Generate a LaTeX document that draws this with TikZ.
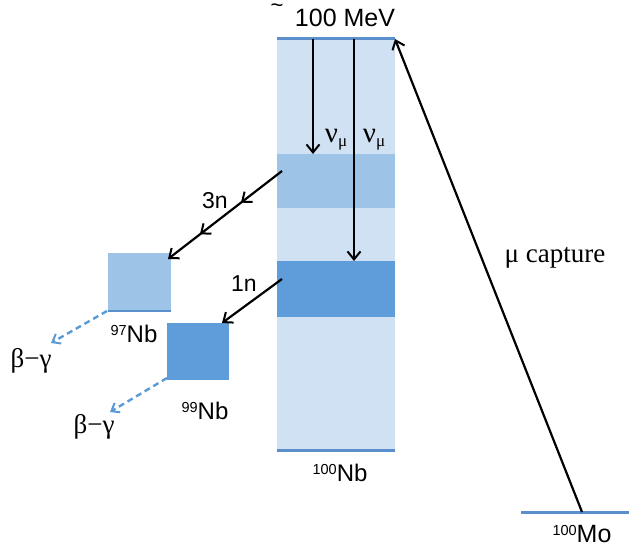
\documentclass[tikz,border=0pt]{standalone}
\usepackage{fontspec}
\setmainfont{Liberation Serif}
\newfontfamily\sansf{Liberation Sans}
\usetikzlibrary{arrows.meta,decorations.markings}
\definecolor{colfill}{HTML}{CFE1F3}
\definecolor{bandA}{HTML}{9DC3E6}
\definecolor{bandB}{HTML}{5E9DDA}
\definecolor{lvl}{HTML}{5B8FCB}
\definecolor{decaycol}{HTML}{5B9BD5}
\newcommand\isotope[2]{\raisebox{7pt}{\fontsize{14.5}{15}\selectfont #1}#2}
\newcommand\numu{ν\raisebox{-4pt}{\fontsize{17}{18}\selectfont μ}}
\begin{document}
\begin{tikzpicture}[x=1pt,y=-1pt,
  box/.style={draw=none,inner sep=0pt,outer sep=0pt,anchor=north west},
  lvlline/.style={draw=lvl,line width=3pt},
  arr/.style={draw=black,line width=2.2pt,-{Straight Barb[length=8pt,width=13pt,line width=2pt]}},
  decay/.style={draw=decaycol,line width=2.4pt,dash pattern=on 6pt off 4pt,-{Straight Barb[length=7pt,width=11pt,line width=2pt]}},
  lab/.style={font=\sansf\fontsize{24}{28}\selectfont,inner sep=0pt},
  serif/.style={font=\fontsize{27}{30}\selectfont,inner sep=0pt}]
\useasboundingbox (0,0) rectangle (629,553);
% column and levels
\node[box,fill=colfill,minimum width=118pt,minimum height=413pt] (col) at (277,39) {};
\node[box,fill=bandA,minimum width=118pt,minimum height=54pt] (band1) at (277,154) {};
\node[box,fill=bandB,minimum width=118pt,minimum height=56pt] (band2) at (277,261) {};
\draw[lvlline] (col.north west) -- (col.north east);
\draw[lvlline] ([yshift=1.5pt]col.south west) -- ([yshift=1.5pt]col.south east);
% daughter boxes
\node[box,fill=bandA,minimum width=63pt,minimum height=59pt] (nb97) at (108,253) {};
\draw[draw=lvl,line width=2pt] ([yshift=1pt]nb97.south west) -- ([yshift=1pt]nb97.south east);
\node[box,fill=bandB,minimum width=62pt,minimum height=57pt] (nb99) at (167,323) {};
% Mo level
\coordinate (moL) at (521,512);
\coordinate (moR) at (629,512);
\coordinate (mo) at (582,512);
\draw[lvlline] (moL) -- (moR);
% neutrino arrows
\coordinate (t1) at (313,39);
\coordinate (t2) at (354,39);
\draw[arr] (t1) -- (t1 |- band1.north);
\draw[arr] (t2) -- (t2 |- band2.north);
% neutron emission
\coordinate (s3) at (282,171);
\coordinate (e3) at (168,259);
\draw[arr,postaction={decorate},decoration={markings,
  mark=at position 0.36 with {\arrow{Straight Barb[length=8pt,width=13pt,line width=2pt]}},
  mark=at position 0.72 with {\arrow{Straight Barb[length=8pt,width=13pt,line width=2pt]}}}] (s3) -- (e3);
\coordinate (s1) at (282,279);
\coordinate (e1) at (222,323);
\draw[arr] (s1) -- (e1);
% beta-gamma decays
\coordinate (bg1) at (51,343);
\coordinate (bg2) at (110,412);
\draw[decay] ([shift={(-1pt,1pt)}]nb97.south west) -- (bg1);
\draw[decay] ([yshift=2pt]nb99.south west) -- (bg2);
% muon capture
\draw[arr] (mo) -- (col.north east);
% labels
\node[lab,font=\sansf\fontsize{22}{22}\selectfont] (tilde) at (277,8) {\textasciitilde};
\node[lab,font=\sansf\fontsize{25}{28}\selectfont] (mev) at (345,18) {100 MeV};
\node[serif,font=\fontsize{29}{30}\selectfont] (nu1) at (336,140) {\numu};
\node[serif,font=\fontsize{29}{30}\selectfont] (nu2) at (374,140) {\numu};
\node[lab,font=\sansf\fontsize{23}{26}\selectfont] (l3n) at (215,201) {3n};
\node[lab,font=\sansf\fontsize{23}{26}\selectfont] (l1n) at (244,284) {1n};
\node[lab] (l97) at (134,334) {\isotope{97}{Nb}};
\node[lab] (l99) at (205,411) {\isotope{99}{Nb}};
\node[lab] (l100) at (340,473) {\isotope{100}{Nb}};
\node[lab,font=\sansf\fontsize{25}{28}\selectfont] (lmo) at (582,534) {\isotope{100}{Mo}};
\node[serif] (bgA) at (31,361) {β−γ};
\node[serif] (bgB) at (94,427) {β−γ};
\node[serif] (mucap) at (555,258) {μ capture};
\end{tikzpicture}
\end{document}
